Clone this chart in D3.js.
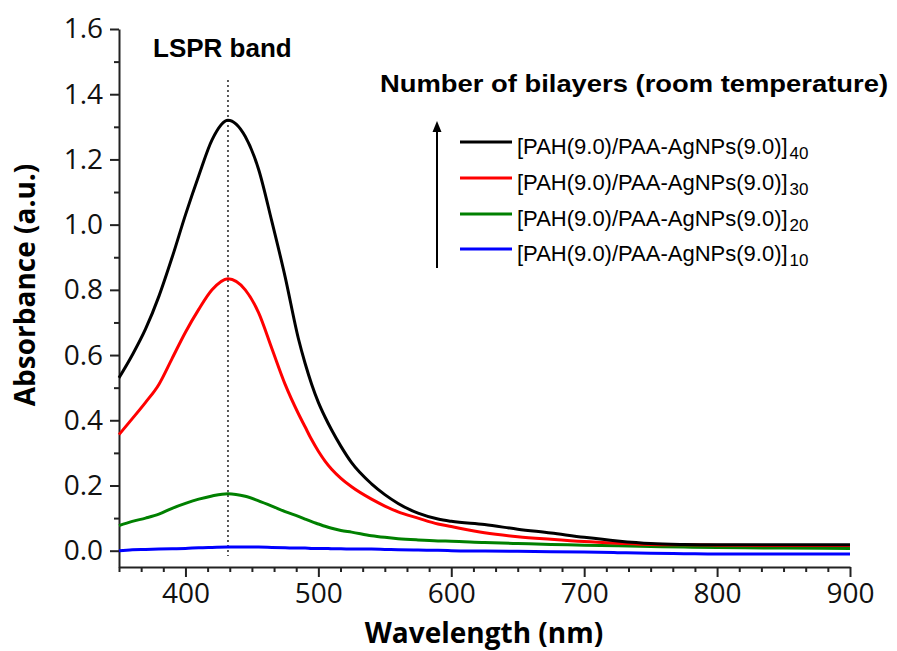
<!DOCTYPE html>
<html>
<head>
<meta charset="utf-8">
<script src="https://d3js.org/d3.v7.min.js"></script>
<style>
body { margin: 0; background: #fff; }
</style>
</head>
<body>
<script>
// wavelength grid (nm) shared by all spectra
var wavelength = [350, 360, 370, 380, 390, 400, 410, 420, 432, 445, 455, 465, 475, 485, 490, 495, 500, 505, 510, 517, 525, 540, 550, 560, 575, 590, 600, 625, 650, 675, 700, 725, 750, 775, 800, 850, 900];

var abs40 = [0.53, 0.60, 0.68, 0.78, 0.90, 1.03, 1.15, 1.26, 1.32, 1.27, 1.17, 1.01, 0.84, 0.65, 0.575, 0.51, 0.455, 0.41, 0.37, 0.32, 0.27, 0.205, 0.172, 0.145, 0.115, 0.097, 0.09, 0.08, 0.066, 0.054, 0.041, 0.030, 0.022, 0.019, 0.018, 0.018, 0.018];
var abs30 = [0.356, 0.405, 0.455, 0.51, 0.59, 0.67, 0.74, 0.80, 0.834, 0.80, 0.73, 0.62, 0.51, 0.42, 0.38, 0.34, 0.305, 0.275, 0.25, 0.222, 0.196, 0.158, 0.137, 0.119, 0.10, 0.082, 0.074, 0.055, 0.043, 0.035, 0.028, 0.023, 0.019, 0.018, 0.017, 0.016, 0.016];
var abs20 = [0.077, 0.09, 0.10, 0.112, 0.13, 0.145, 0.158, 0.168, 0.175, 0.167, 0.153, 0.137, 0.12, 0.105, 0.097, 0.089, 0.082, 0.075, 0.069, 0.062, 0.057, 0.046, 0.041, 0.037, 0.033, 0.030, 0.029, 0.025, 0.022, 0.019, 0.017, 0.015, 0.013, 0.011, 0.010, 0.008, 0.007];
var abs10 = [0.0, 0.003, 0.004, 0.005, 0.006, 0.007, 0.009, 0.010, 0.011, 0.011, 0.011, 0.010, 0.009, 0.008, 0.008, 0.007, 0.007, 0.007, 0.006, 0.006, 0.005, 0.005, 0.004, 0.003, 0.002, 0.001, 0.0, -0.001, -0.002, -0.003, -0.004, -0.006, -0.008, -0.009, -0.010, -0.010, -0.010];

var seriesNames = ["40", "30", "20", "10"];
var seriesColors = ["#000000", "#ff0000", "#008000", "#0000ff"];
var seriesValues = [abs40, abs30, abs20, abs10];

var xTicks = [400, 500, 600, 700, 800, 900];
var yTicks = [0.0, 0.2, 0.4, 0.6, 0.8, 1.0, 1.2, 1.4, 1.6];
var yMinor = [0.1, 0.3, 0.5, 0.7, 0.9, 1.1, 1.3, 1.5];
var xMinor = d3.range(0, 34).map(function(k) { return 350 + k * 100 / 6; })
  .filter(function(v) { return Math.abs(v / 100 - Math.round(v / 100)) > 0.01; });

var peakNm = 432;

var W = 897, H = 651;
var svg = d3.select("body").append("svg")
  .attr("width", W)
  .attr("height", H);

var x = d3.scaleLinear().domain([350, 900]).range([119, 850]);
var y = d3.scaleLinear().domain([-0.05, 1.6]).range([567, 29]);

// y axis
svg.append("g")
  .attr("transform", "translate(119,0)")
  .call(d3.axisLeft(y).tickValues(yTicks).tickSize(9).tickSizeOuter(0).tickPadding(7)
    .tickFormat(d3.format(".1f")));
svg.append("g")
  .attr("transform", "translate(119,0)")
  .call(d3.axisLeft(y).tickValues(yMinor).tickSize(5).tickSizeOuter(0).tickFormat(""))
  .select(".domain").remove();

// x axis
svg.append("g")
  .attr("transform", "translate(0,567)")
  .call(d3.axisBottom(x).tickValues(xTicks).tickSize(10).tickSizeOuter(0).tickPadding(6)
    .tickFormat(d3.format("d")));
svg.append("g")
  .attr("transform", "translate(0,567)")
  .call(d3.axisBottom(x).tickValues(xMinor).tickSize(5).tickSizeOuter(0).tickFormat(""))
  .select(".domain").remove();

svg.selectAll(".domain, .tick line")
  .attr("stroke", "#222")
  .attr("stroke-width", 2);
svg.selectAll(".tick text")
  .attr("font-family", "'Open Sans', sans-serif")
  .attr("font-size", 28)
  .attr("fill", "#111");

// axis titles
svg.append("text")
  .attr("x", 484)
  .attr("y", 643)
  .attr("text-anchor", "middle")
  .attr("font-family", "'Open Sans', sans-serif")
  .attr("font-weight", "bold")
  .attr("font-size", 28)
  .text("Wavelength (nm)");

svg.append("text")
  .attr("transform", "translate(35,285) rotate(-90)")
  .attr("text-anchor", "middle")
  .attr("font-family", "'Open Sans', sans-serif")
  .attr("font-weight", "bold")
  .attr("font-size", 28)
  .text("Absorbance (a.u.)");

// LSPR marker
svg.append("line")
  .attr("x1", x(peakNm)).attr("x2", x(peakNm))
  .attr("y1", 80).attr("y2", 556)
  .attr("stroke", "#000")
  .attr("stroke-width", 1.3)
  .attr("stroke-dasharray", "2,3");

svg.append("text")
  .attr("x", 153)
  .attr("y", 57)
  .attr("font-family", "'Liberation Sans', Arial, sans-serif")
  .attr("font-weight", "bold")
  .attr("font-size", 26)
  .text("LSPR band");

// spectra
var line = d3.line()
  .x(function(d) { return x(d[0]); })
  .y(function(d) { return y(d[1]); })
  .curve(d3.curveMonotoneX);

// draw lowest first so black ends on top
for (var i = seriesValues.length - 1; i >= 0; i--) {
  var pts = wavelength.map(function(w, j) { return [w, seriesValues[i][j]]; });
  svg.append("path")
    .datum(pts)
    .attr("d", line)
    .attr("fill", "none")
    .attr("stroke", seriesColors[i])
    .attr("stroke-width", 3);
}

// legend
svg.append("text")
  .attr("x", 380)
  .attr("y", 92)
  .attr("font-family", "'Liberation Sans', Arial, sans-serif")
  .attr("font-weight", "bold")
  .attr("font-size", 24)
  .attr("textLength", 508)
  .attr("lengthAdjust", "spacingAndGlyphs")
  .text("Number of bilayers (room temperature)");

// arrow
svg.append("line")
  .attr("x1", 437).attr("x2", 437)
  .attr("y1", 268).attr("y2", 130)
  .attr("stroke", "#000")
  .attr("stroke-width", 2);
svg.append("path")
  .attr("d", "M437,121 L432.5,132 L441.5,132 Z")
  .attr("fill", "#000");

var legY = [142, 178, 214, 249];
seriesNames.forEach(function(n, i) {
  svg.append("line")
    .attr("x1", 460).attr("x2", 512)
    .attr("y1", legY[i]).attr("y2", legY[i])
    .attr("stroke", seriesColors[i])
    .attr("stroke-width", 3);
  var t = svg.append("text")
    .attr("x", 517)
    .attr("y", legY[i] + 12)
    .attr("font-family", "'Liberation Sans', Arial, sans-serif")
    .attr("font-size", 22)
    .attr("fill", "#000");
  t.append("tspan").text("[PAH(9.0)/PAA-AgNPs(9.0)]");
  t.append("tspan")
    .attr("dx", 2)
    .attr("dy", 5)
    .attr("font-size", 17)
    .text(n);
});
</script>
</body>
</html>
